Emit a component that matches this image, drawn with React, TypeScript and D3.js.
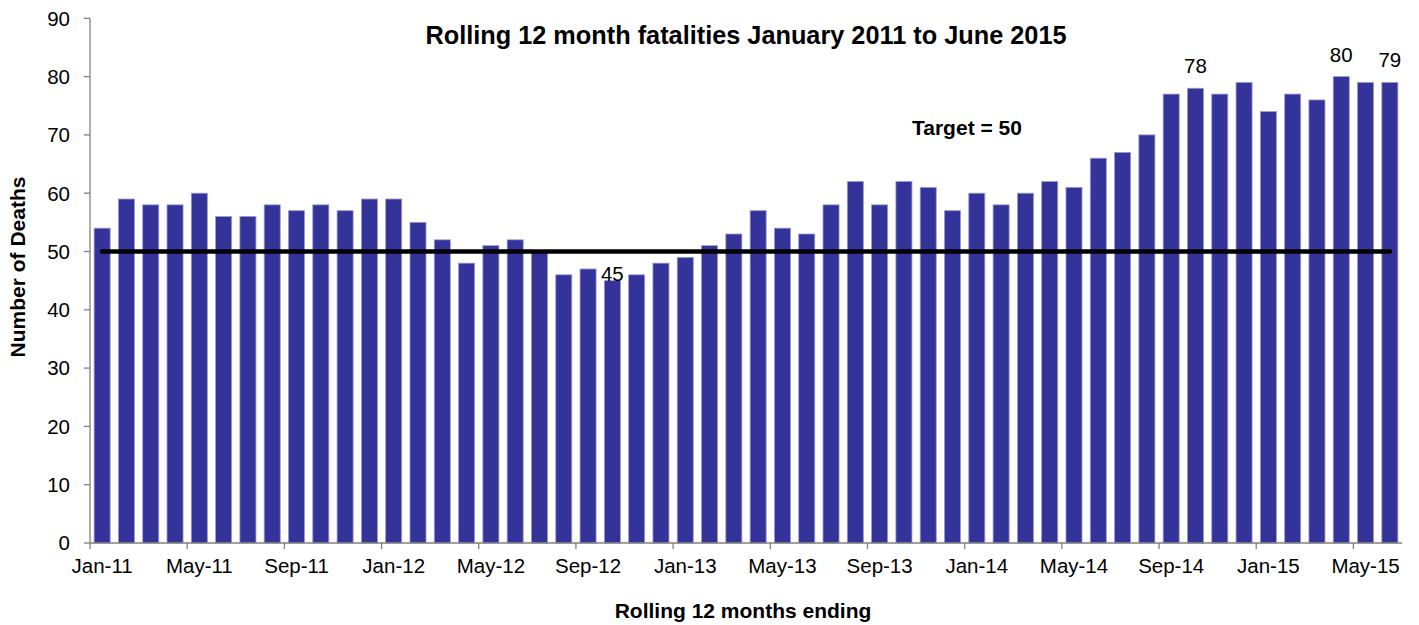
import React from "react";
import * as d3 from "d3";

const months = [
  "Jan-11","Feb-11","Mar-11","Apr-11","May-11","Jun-11","Jul-11","Aug-11","Sep-11","Oct-11","Nov-11","Dec-11",
  "Jan-12","Feb-12","Mar-12","Apr-12","May-12","Jun-12","Jul-12","Aug-12","Sep-12","Oct-12","Nov-12","Dec-12",
  "Jan-13","Feb-13","Mar-13","Apr-13","May-13","Jun-13","Jul-13","Aug-13","Sep-13","Oct-13","Nov-13","Dec-13",
  "Jan-14","Feb-14","Mar-14","Apr-14","May-14","Jun-14","Jul-14","Aug-14","Sep-14","Oct-14","Nov-14","Dec-14",
  "Jan-15","Feb-15","Mar-15","Apr-15","May-15","Jun-15",
];

const deaths = [
  54, 59, 58, 58, 60, 56, 56, 58, 57, 58, 57, 59,
  59, 55, 52, 48, 51, 52, 50, 46, 47, 45, 46, 48,
  49, 51, 53, 57, 54, 53, 58, 62, 58, 62, 61, 57,
  60, 58, 60, 62, 61, 66, 67, 70, 77, 78, 77, 79,
  74, 77, 76, 80, 79, 79,
];

const yTicks = [0, 10, 20, 30, 40, 50, 60, 70, 80, 90];
const target = 50;
const labelledMonths = ["Oct-12", "Oct-14", "Apr-15", "Jun-15"];

const title = "Rolling 12 month fatalities January 2011 to June 2015";
const xTitle = "Rolling 12 months ending";
const yTitle = "Number of Deaths";
const targetLabel = "Target = 50";

const W = 1419;
const H = 625;
const FONT = "'Liberation Sans', Arial, sans-serif";

export default function App() {
  const left = 90;
  const right = 1402;
  const top = 18.3;
  const bottom = 543;

  const x = d3.scaleBand<string>().domain(months).range([left, right]).paddingInner(0.34).paddingOuter(0.17);
  const step = (right - left) / months.length;
  const y = d3.scaleLinear().domain([0, 90]).range([bottom, top]);

  const labelOffset = (m: string) => (m === "Oct-12" ? 0 : 15);

  const tickMonths = months.filter((_, i) => i % 4 === 0);
  const centre = (m: string) => left + (months.indexOf(m) + 0.5) * step;

  return (
    <svg width={W} height={H} style={{ position: "absolute", left: 0, top: 0, background: "#fff" }} fontFamily={FONT}>
      <rect x={0} y={0} width={W} height={H} fill="#fff" />
      {/* bars */}
      {months.map((m, i) => (
        <rect
          key={m}
          x={x(m)!}
          y={y(deaths[i])}
          width={x.bandwidth()}
          height={bottom - y(deaths[i])}
          fill="#333399"
          stroke="#9a9ad0"
          strokeWidth={0.8}
        />
      ))}
      {/* y axis */}
      <line x1={left} x2={left} y1={top} y2={bottom} stroke="#808080" strokeWidth={1.3} />
      {yTicks.map((t) => (
        <g key={t}>
          <line x1={left - 6} x2={left} y1={y(t)} y2={y(t)} stroke="#808080" strokeWidth={1.3} />
          <text x={left - 20} y={y(t)} dy="0.36em" textAnchor="end" fontSize={20.5} fill="#000">
            {t}
          </text>
        </g>
      ))}
      {/* x axis */}
      <line x1={left} x2={right} y1={bottom} y2={bottom} stroke="#808080" strokeWidth={1.3} />
      {tickMonths.map((m) => {
        const tx = left + months.indexOf(m) * step;
        return (
          <g key={m}>
            <line x1={tx} x2={tx} y1={bottom} y2={bottom + 6} stroke="#808080" strokeWidth={1.3} />
            <text x={centre(m)} y={bottom + 30} textAnchor="middle" fontSize={20.5} fill="#000">
              {m}
            </text>
          </g>
        );
      })}
      {/* target line */}
      <line
        x1={centre(months[0])}
        x2={centre(months[months.length - 1])}
        y1={y(target)}
        y2={y(target)}
        stroke="#000"
        strokeWidth={4.5}
        strokeLinecap="round"
      />
      {/* data labels */}
      {labelledMonths.map((m) => {
        const v = deaths[months.indexOf(m)];
        return (
          <text key={m} x={centre(m)} y={y(v) - labelOffset(m)} textAnchor="middle" fontSize={20.5} fill="#000">
            {v}
          </text>
        );
      })}
      {/* titles */}
      <text x={746} y={44} textAnchor="middle" fontSize={25.3} fontWeight="bold" fill="#000">
        {title}
      </text>
      <text x={912} y={135} fontSize={21} fontWeight="bold" fill="#000">
        {targetLabel}
      </text>
      <text x={743} y={618} textAnchor="middle" fontSize={21} fontWeight="bold" fill="#000">
        {xTitle}
      </text>
      <text
        transform={`translate(25, 267) rotate(-90)`}
        textAnchor="middle"
        fontSize={21}
        fontWeight="bold"
        fill="#000"
      >
        {yTitle}
      </text>
    </svg>
  );
}
